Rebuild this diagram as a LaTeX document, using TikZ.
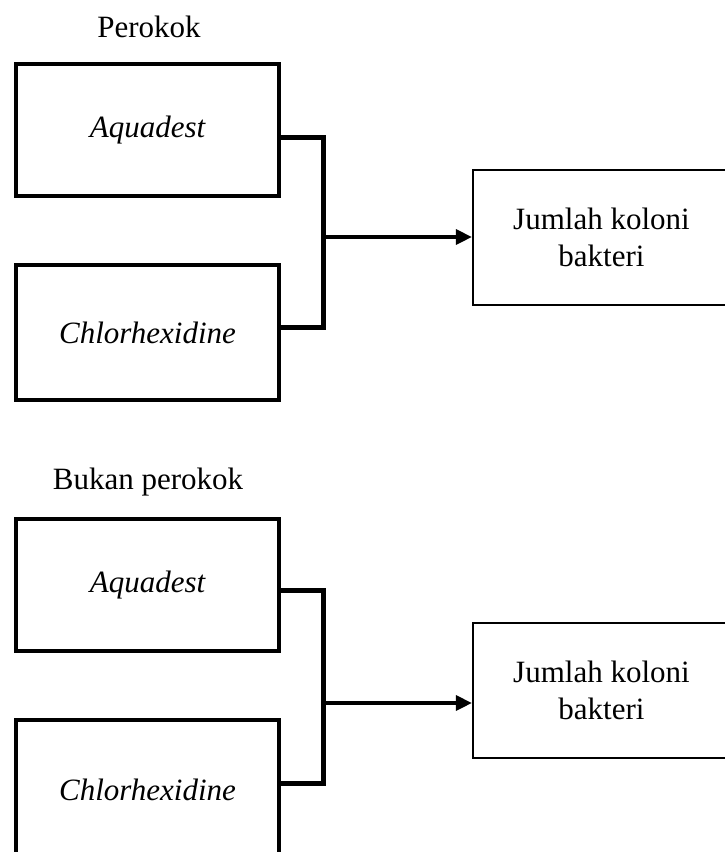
\documentclass[tikz,border=0pt]{standalone}
\usepackage{fontspec}
\setmainfont{Liberation Serif}
\usetikzlibrary{arrows.meta}
\begin{document}
\begin{tikzpicture}[x=1pt,y=-1pt,
  txt/.style={font=\fontsize{31}{37}\selectfont, align=center, inner sep=0pt},
  groupbox/.style={txt, draw, line width=4.5pt, minimum width=263pt},
  outbox/.style={txt, draw, line width=2.2pt, minimum width=257pt, minimum height=135pt},
  link/.style={line width=5pt, line join=miter},
  arr/.style={line width=3.2pt, -{Triangle[length=16pt,width=15pt]}}]
\useasboundingbox (0,0) rectangle (725,852);
% top group
\node[txt] (lab1) at (149,27) {Perokok};
\node[groupbox, minimum height=132pt] (a1) at (147.5,130) {\itshape Aquadest};
\node[groupbox, minimum height=135pt] (c1) at (147.5,332.5) {\itshape Chlorhexidine};
\node[outbox] (r1) at (601.5,237.5) {Jumlah koloni\\bakteri};
\coordinate (j1) at (323,237);
\draw[link] ([yshift=-7pt]a1.east) -| (j1) |- ([yshift=5.5pt]c1.east);
\draw[arr] (j1) -- (r1.west |- j1);
% bottom group
\node[txt] (lab2) at (148,482) {Bukan perokok};
\node[groupbox, minimum height=132pt] (a2) at (147.5,585) {\itshape Aquadest};
\node[groupbox, minimum height=140pt] (c2) at (147.5,790) {\itshape Chlorhexidine};
\node[outbox] (r2) at (601.5,690.5) {Jumlah koloni\\bakteri};
\coordinate (j2) at (323,703);
\draw[link] ([yshift=-5pt]a2.east) -| (j2) |- ([yshift=7pt]c2.east);
\draw[arr] (j2) -- (r2.west |- j2);
\end{tikzpicture}
\end{document}
